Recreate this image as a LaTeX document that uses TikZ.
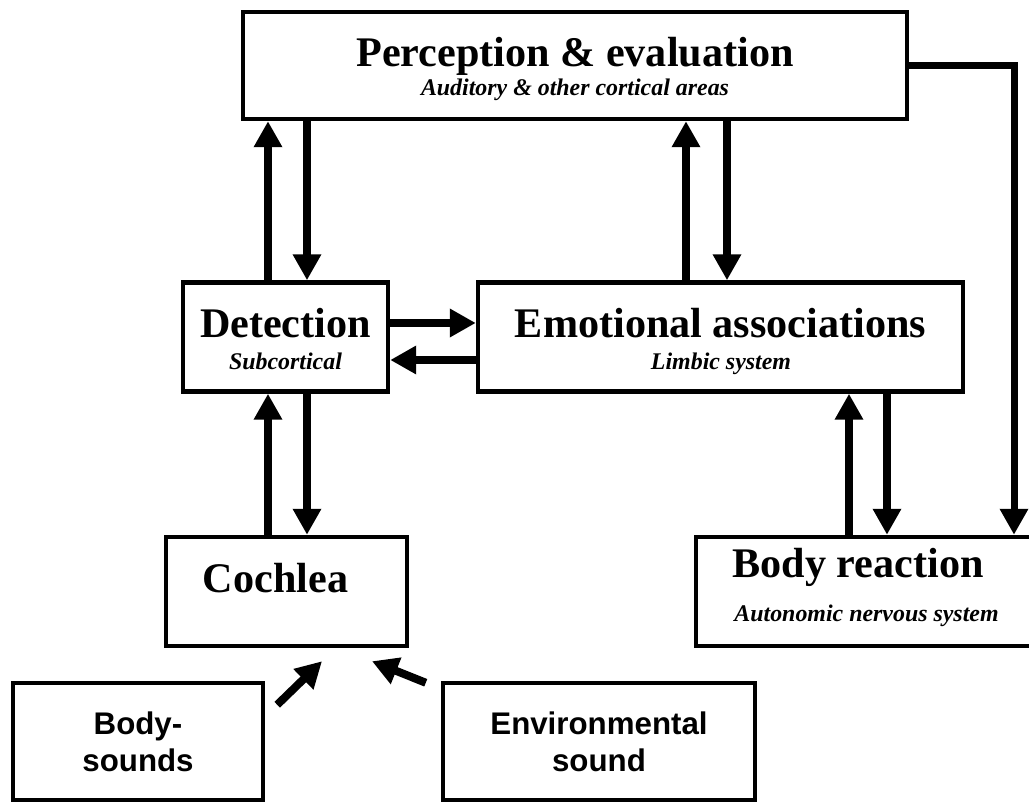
\documentclass[tikz,border=0pt]{standalone}
\usepackage{fontspec}
\setmainfont{Liberation Serif}
\setsansfont{Liberation Sans}
\usetikzlibrary{arrows.meta, positioning, calc}

\begin{document}
\begin{tikzpicture}[x=0.02cm, y=-0.02cm,
    box/.style={draw, line width=0.09cm, inner sep=0pt},
    arr/.style={-{Triangle[length=0.52cm, width=0.54cm]}, line width=0.16cm},
    ttl/.style={anchor=base, inner sep=0pt, font=\bfseries\fontsize{24}{28}\selectfont},
    sub/.style={anchor=base, inner sep=0pt, font=\bfseries\itshape\fontsize{13.6}{16}\selectfont},
    snd/.style={align=center, font=\sffamily\bfseries\fontsize{17.8}{21}\selectfont}]
    \useasboundingbox (0,0) rectangle (1029,803);
    % Boxes
    \node[box, minimum width=13.28cm, minimum height=2.14cm] (perc) at (575,65.5) {};
    \node[box, minimum width=4.1cm, minimum height=2.18cm] (det) at (285.5,337) {};
    \node[box, minimum width=9.7cm, minimum height=2.18cm] (emo) at (720.5,337) {};
    \node[box, minimum width=4.82cm, minimum height=2.18cm] (coch) at (286.5,591.5) {};
    \node[box, minimum width=6.88cm, minimum height=2.18cm] (br) at (868,591.5) {};
    \node[box, snd, minimum width=5cm, minimum height=2.34cm] (bs) at (138,741.5) {Body-\\sounds};
    \node[box, snd, minimum width=6.24cm, minimum height=2.34cm] (env) at (599,741.5) {Environmental\\sound};
    % Labels
    \node[ttl] (percT) at (575,67) {Perception \& evaluation};
    \node[sub] (percS) at (575,96) {Auditory \& other cortical areas};
    \node[ttl] (detT) at (285.5,338) {Detection};
    \node[sub] (detS) at (285.5,370) {Subcortical};
    \node[ttl] (emoT) at (720.5,338) {Emotional associations};
    \node[sub] (emoS) at (721,370) {Limbic system};
    \node[ttl] (cochT) at (275.5,593) {Cochlea};
    \node[ttl] (brT) at (858,578) {Body reaction};
    \node[sub] (brS) at (866.5,622) {Autonomic nervous system};
    % Arrows between levels
    \draw[arr] (det.north -| 268,0) -- (perc.south -| 268,0);
    \draw[arr] (perc.south -| 307,0) -- (det.north -| 307,0);
    \draw[arr] (emo.north -| 686,0) -- (perc.south -| 686,0);
    \draw[arr] (perc.south -| 727,0) -- (emo.north -| 727,0);
    \draw[arr] (det.east |- 0,323) -- (emo.west |- 0,323);
    \draw[arr] (emo.west |- 0,360) -- (det.east |- 0,360);
    \draw[arr] (coch.north -| 268,0) -- (det.south -| 268,0);
    \draw[arr] (det.south -| 307,0) -- (coch.north -| 307,0);
    \draw[arr] (br.north -| 849,0) -- (emo.south -| 849,0);
    \draw[arr] (emo.south -| 887,0) -- (br.north -| 887,0);
    \draw[arr, line width=0.14cm] (perc.east) -| (br.north -| 1014,0);
    % Sound input
    \coordinate (bsTail) at ($(bs.north east)+(12,24)$);
    \coordinate (bsTip) at ($(coch.south)+(35.5,13)$);
    \coordinate (envTail) at ($(env.north west)+(-15,2)$);
    \coordinate (envTip) at ($(coch.south)+(85.5,13)$);
    \draw[arr] (bsTail) -- (bsTip);
    \draw[arr] (envTail) -- (envTip);
\end{tikzpicture}
\end{document}
